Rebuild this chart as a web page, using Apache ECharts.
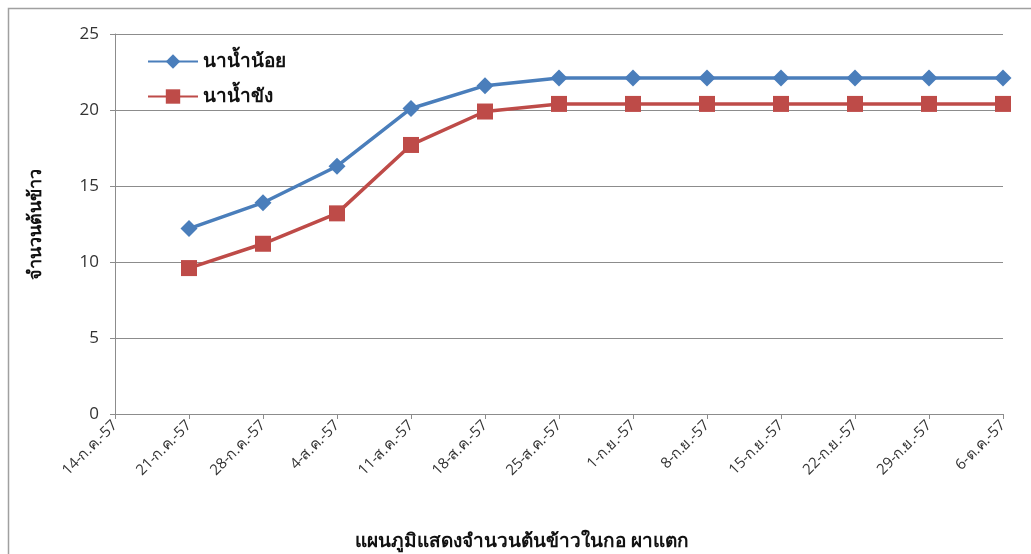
<!DOCTYPE html>
<html>
<head>
<meta charset="utf-8">
<script src="https://cdn.jsdelivr.net/npm/echarts@6/dist/echarts.min.js"></script>
<style>
  html, body { margin: 0; padding: 0; background: #fff; }
  #chart { width: 1031px; height: 554px; }
</style>
</head>
<body>
<div id="chart"></div>
<script>
// วันที่ตรวจนับ
const categories = ['14-ก.ค.-57', '21-ก.ค.-57', '28-ก.ค.-57', '4-ส.ค.-57', '11-ส.ค.-57', '18-ส.ค.-57',
  '25-ส.ค.-57', '1-ก.ย.-57', '8-ก.ย.-57', '15-ก.ย.-57', '22-ก.ย.-57', '29-ก.ย.-57', '6-ต.ค.-57'];
// จำนวนต้นข้าว
const naNamNoi = [null, 12.2, 13.9, 16.3, 20.1, 21.6, 22.1, 22.1, 22.1, 22.1, 22.1, 22.1, 22.1];
const naNamKhang = [null, 9.6, 11.2, 13.2, 17.7, 19.9, 20.4, 20.4, 20.4, 20.4, 20.4, 20.4, 20.4];
const yTicks = [0, 5, 10, 15, 20, 25];

let myChart = echarts.init(document.getElementById('chart'));
const grey = '#8c8c8c';
myChart.setOption({
  animation: false,
  graphic: [
    {
      type: 'rect',
      shape: { x: 8.5, y: 8.5, width: 1040, height: 560 },
      style: { fill: 'none', stroke: '#a0a0a0', lineWidth: 1.5 },
      silent: true
    }
  ],
  title: {
    text: 'แผนภูมิแสดงจำนวนต้นข้าวในกอ ผาแตก',
    left: 350,
    bottom: -2,
    textStyle: { fontSize: 19, fontWeight: 'bold', color: '#111' }
  },
  legend: {
    orient: 'vertical',
    left: 142,
    top: 47,
    itemGap: 16,
    itemWidth: 50,
    itemHeight: 18,
    textStyle: { fontSize: 19, color: '#111', fontWeight: 'bold' },
    data: ['นาน้ำน้อย', 'นาน้ำขัง']
  },
  grid: { left: 115, right: 28, top: 34, bottom: 140 },
  xAxis: {
    type: 'category',
    boundaryGap: false,
    data: categories,
    axisLine: { lineStyle: { color: grey } },
    axisTick: { show: true, alignWithLabel: true, length: 5, lineStyle: { color: grey } },
    axisLabel: { rotate: 45, fontSize: 15, color: '#333', margin: 9, interval: 0, fontFamily: 'Open Sans' }
  },
  yAxis: {
    type: 'value',
    min: 0,
    max: 25,
    interval: 5,
    name: 'จำนวนต้นข้าว',
    nameLocation: 'middle',
    nameGap: 70,
    nameTextStyle: { fontSize: 18, fontWeight: 'bold', color: '#111' },
    axisLine: { show: true, lineStyle: { color: grey } },
    axisTick: { show: true, length: 5, lineStyle: { color: grey } },
    splitLine: { lineStyle: { color: grey, width: 1 } },
    axisLabel: {
      fontSize: 17, color: '#333', margin: 16, fontFamily: 'Open Sans',
      formatter: function (v) { return yTicks.indexOf(v) >= 0 ? String(v) : ''; }
    }
  },
  series: [
    {
      name: 'นาน้ำน้อย',
      type: 'line',
      data: naNamNoi,
      symbol: 'diamond',
      symbolSize: 17,
      lineStyle: { width: 3.5, color: '#4a7ebb' },
      itemStyle: { color: '#4a7ebb' }
    },
    {
      name: 'นาน้ำขัง',
      type: 'line',
      data: naNamKhang,
      symbol: 'rect',
      symbolSize: 16,
      lineStyle: { width: 3.5, color: '#be4b48' },
      itemStyle: { color: '#be4b48' }
    }
  ]
});
</script>
</body>
</html>
